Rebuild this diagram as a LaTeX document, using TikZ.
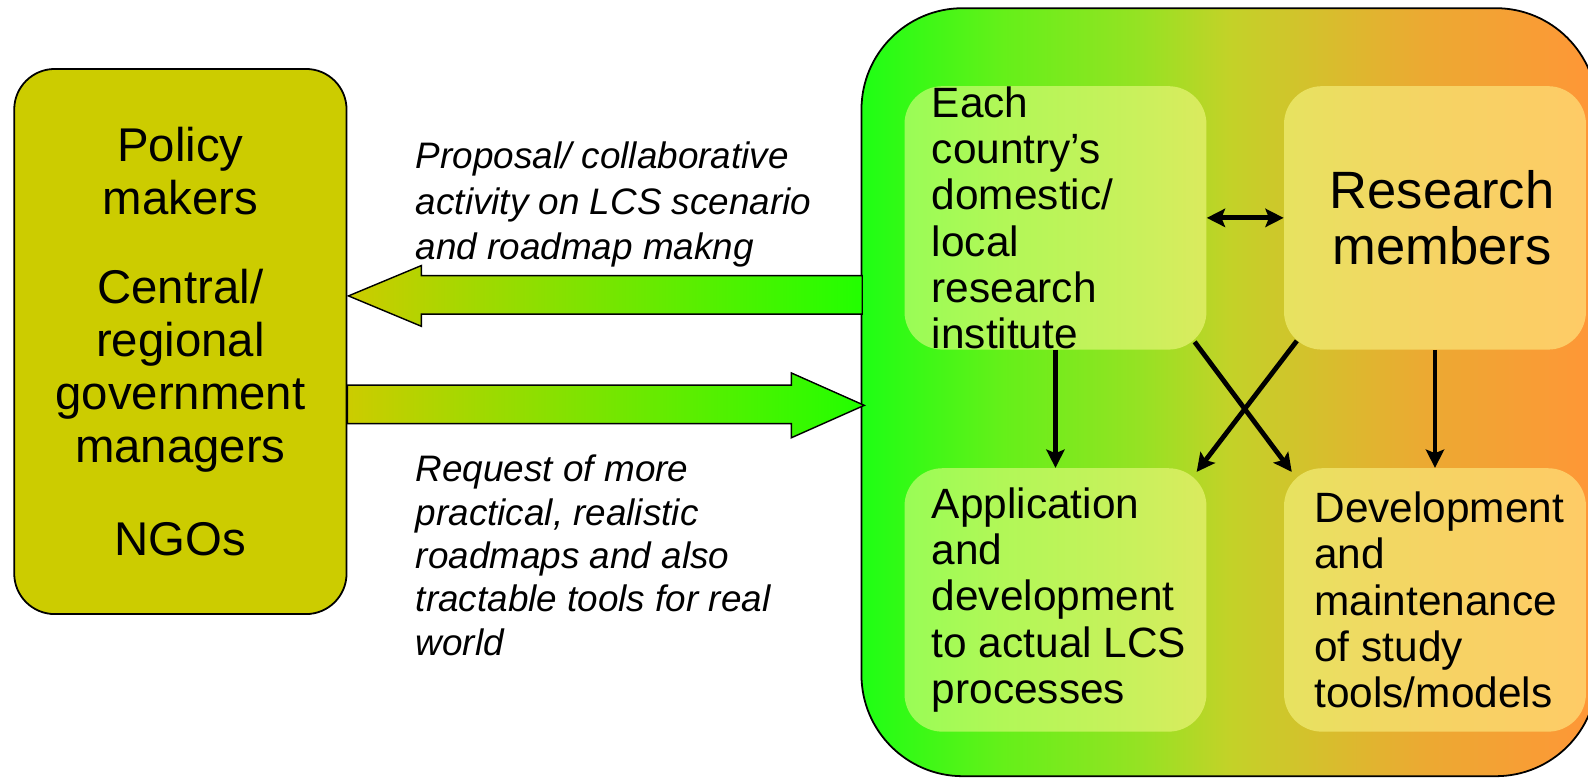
\documentclass[tikz,border=0pt]{standalone}
\usepackage{fontspec}
\setmainfont{Liberation Sans}
\usetikzlibrary{arrows.meta,calc}
\definecolor{govcol}{RGB}{204,204,0}
\definecolor{arrowgreen}{RGB}{34,255,0}
\definecolor{paneltint}{RGB}{255,255,150}
\definecolor{labA}{RGB}{30,255,20}
\definecolor{labB}{RGB}{100,240,25}
\definecolor{labC}{RGB}{150,226,35}
\definecolor{labD}{RGB}{195,210,40}
\definecolor{labE}{RGB}{215,190,45}
\definecolor{labF}{RGB}{235,170,50}
\definecolor{labG}{RGB}{255,150,55}
\pgfdeclarehorizontalshading{labshade}{100bp}{color(0bp)=(labA); color(25bp)=(labA);
	color(34.5bp)=(labB); color(44bp)=(labC); color(50bp)=(labD); color(56.5bp)=(labE);
	color(63bp)=(labF); color(75bp)=(labG); color(100bp)=(labG)}
\begin{document}
\begin{tikzpicture}[x=0.02cm,y=-0.02cm,
	every node/.style={inner sep=0},
	govbox/.style={draw,line width=1pt,fill=govcol,rounded corners=0.8cm,
	minimum width=6.56cm,minimum height=10.76cm,align=center,
	font=\fontsize{26.6}{29.8}\selectfont},
	panel/.style={fill=paneltint,fill opacity=0.5,rounded corners=0.75cm,
	minimum width=5.96cm,minimum height=5.2cm},
	paneltext/.style={anchor=west,align=left,font=\fontsize{23.8}{25.9}\selectfont},
	note/.style={anchor=west,align=left,font=\fontsize{20.7}{25.5}\selectfont\itshape},
	fat/.style={draw,line width=0.8pt,left color=govcol,right color=arrowgreen},
	link/.style={line width=2.7pt,-{Stealth[length=0.36cm,width=0.36cm,inset=0.07cm]}}]
\useasboundingbox (0,0) rectangle (1567,767);
\node[govbox] (gov) at (178,337) {Policy\\makers\\[20pt]Central/\\regional\\government\\managers\\[22.5pt]NGOs};
\node[draw,line width=1pt,rounded corners=2cm,minimum width=14.52cm,minimum height=15.16cm,
	shading=labshade] (lab) at (1213,387) {};
\node[panel] (inst) at (1041.5,215) {};
\node[panel] (members) at (1416,215) {};
\node[panel] (appl) at (1041.5,592) {};
\node[panel] (tools) at (1416,592) {};
\node[paneltext] at ([xshift=0.54cm]inst.west) {Each\\country's\\domestic/\\local\\research\\institute};
\node[align=center,font=\fontsize{29.5}{31.7}\selectfont] at ([xshift=0.14cm]members.center) {Research\\members};
\node[paneltext] at ([xshift=0.54cm]appl.west) {Application\\and\\development\\to actual LCS\\processes};
\node[paneltext] at ([xshift=0.6cm]tools.west) {Development\\and\\maintenance\\of study\\tools/models};
\node[note] (ask) at (410,202) {Proposal/ collaborative\\activity on LCS scenario\\and roadmap makng};
\node[note,font=\fontsize{20.7}{24.4}\selectfont\itshape] (req) at (410,548) {Request of more\\practical, realistic\\roadmaps and also\\tractable tools for real\\world};
% wide arrows between the two groups
\draw[fat] ($(gov.east)+(1,-45)$) -- ++(72,-30) -- ++(0,10) -- ++(435,0) -- ++(0,38)
	-- ++(-435,0) -- ++(0,12) -- cycle;
\draw[fat] ($(gov.east)+(0,43)$) -- ++(438,0) -- ++(0,-12) -- ++(72,32) -- ++(-72,32)
	-- ++(0,-14) -- ++(-438,0) -- cycle;
\draw[link] (inst.south) -- (appl.north);
\draw[link] (members.south) -- (tools.north);
\draw[link,{Stealth[length=0.36cm,width=0.36cm,inset=0.07cm]}-{Stealth[length=0.36cm,width=0.36cm,inset=0.07cm]}]
	(inst.east) -- (members.west);
\draw[link] ([xshift=-0.24cm,yshift=0.16cm]inst.south east) -- ([xshift=0.16cm,yshift=-0.08cm]tools.north west);
\draw[link] ([xshift=0.26cm,yshift=0.18cm]members.south west) -- ([xshift=-0.2cm,yshift=-0.08cm]appl.north east);
\end{tikzpicture}
\end{document}
